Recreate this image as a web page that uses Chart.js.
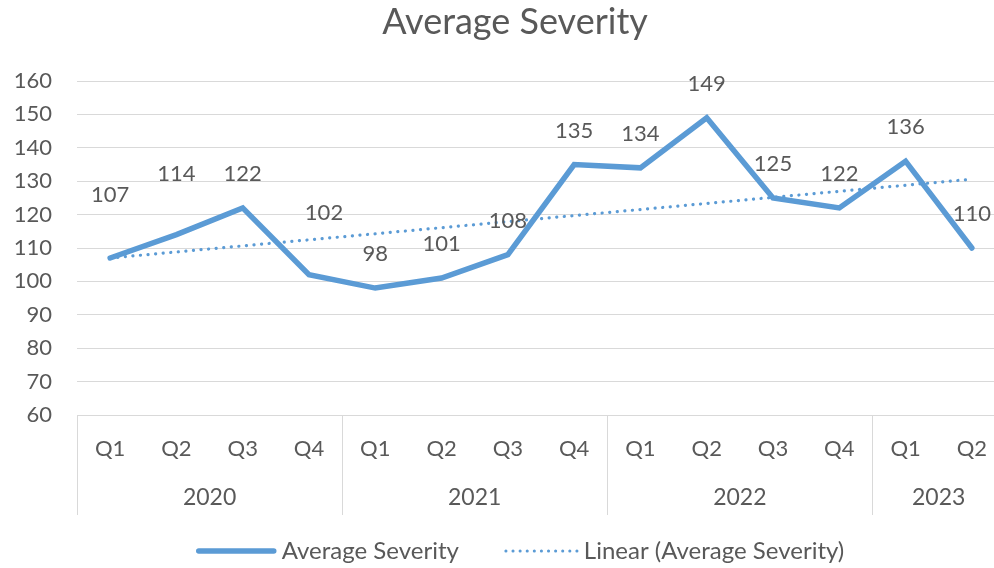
<!DOCTYPE html>
<html><head><meta charset="utf-8">
<script src="https://cdn.jsdelivr.net/npm/chart.js@4/dist/chart.umd.min.js"></script>
<style>html,body{margin:0;padding:0;overflow:hidden;background:#fff;width:994px;height:568px}
#wrap{width:1030px;height:568px}</style></head>
<body><div id="wrap"><canvas id="c" width="1030" height="568"></canvas></div>
<script>
// ---- data ----
const quarters = ['Q1','Q2','Q3','Q4','Q1','Q2','Q3','Q4','Q1','Q2','Q3','Q4','Q1','Q2'];
const years = ['2020','2020','2020','2020','2021','2021','2021','2021','2022','2022','2022','2022','2023','2023'];
const severity = [107,114,122,102,98,101,108,135,134,149,125,122,136,110];
const trendStart = 107.0;   // linear trendline value at first quarter
const trendEnd = 130.6;     // linear trendline value at last quarter
const yMin = 60, yMax = 160, yStep = 10;
const chartTitle = 'Average Severity';
const seriesName = 'Average Severity';
const trendName = 'Linear (Average Severity)';

// ---- style ----
const TXT = '#595959', GRID = '#d9d9d9', BLUE = '#5B9BD5', FONT = 'Lato';
const labelNudge = {0:[0,-63], 1:[0,-61], 3:[15,-62]}; // others: [0,-34]
const AXIS_H = 100;

const trendData = quarters.map((_, i) => i === 0 ? trendStart : (i === quarters.length - 1 ? trendEnd : null));

const decor = {
  id: 'decor',
  afterDatasetsDraw(chart) {
    const ctx = chart.ctx, a = chart.chartArea, x = chart.scales.x;
    ctx.save();
    ctx.fillStyle = TXT; ctx.textAlign = 'center'; ctx.textBaseline = 'middle';
    // title
    ctx.font = '36px ' + FONT;
    ctx.fillText(chartTitle, chart.width / 2, 22);
    // data labels
    ctx.font = '22px ' + FONT;
    const meta = chart.getDatasetMeta(0);
    meta.data.forEach((p, i) => {
      const n = labelNudge[i] || [0, -34];
      ctx.fillText(String(severity[i]), p.x + n[0], p.y + n[1]);
    });
    // grouped category axis
    ctx.font = '23px ' + FONT;
    const half = (x.getPixelForValue(1) - x.getPixelForValue(0)) / 2;
    const edges = new Set();
    let start = 0;
    for (let i = 1; i <= years.length; i++) {
      if (i === years.length || years[i] !== years[start]) {
        const l = x.getPixelForValue(start) - half, r = x.getPixelForValue(i - 1) + half;
        ctx.fillText(years[start], (l + r) / 2, a.bottom + 83);
        edges.add(Math.round(l)); edges.add(Math.round(r));
        start = i;
      }
    }
    ctx.strokeStyle = GRID; ctx.lineWidth = 1;
    edges.forEach(e => {
      ctx.beginPath(); ctx.moveTo(e + 0.5, a.bottom); ctx.lineTo(e + 0.5, a.bottom + AXIS_H); ctx.stroke();
    });
    // legend
    const ly = 551;
    ctx.font = '24px ' + FONT; ctx.textAlign = 'left';
    const w1 = ctx.measureText(seriesName).width, w2 = ctx.measureText(trendName).width;
    const s1 = 80, s2 = 74, g = 6, gap = 45;
    const total = s1 + g + w1 + gap + s2 + g + w2;
    let lx = chart.width / 2 - total / 2 + 5;
    ctx.strokeStyle = BLUE; ctx.lineCap = 'round';
    ctx.lineWidth = 5.5; ctx.beginPath(); ctx.moveTo(lx + 3, ly); ctx.lineTo(lx + s1 - 2, ly); ctx.stroke();
    ctx.fillText(seriesName, lx + s1 + g, ly);
    lx += s1 + g + w1 + gap;
    ctx.lineWidth = 3; ctx.setLineDash([0.1, 7]);
    ctx.beginPath(); ctx.moveTo(lx + 2, ly); ctx.lineTo(lx + s2, ly); ctx.stroke();
    ctx.setLineDash([]);
    ctx.fillText(trendName, lx + s2 + g, ly);
    ctx.restore();
  }
};

new Chart(document.getElementById('c'), {
  type: 'line',
  data: {
    labels: quarters,
    datasets: [
      { label: seriesName, data: severity, borderColor: BLUE, backgroundColor: BLUE,
        borderWidth: 5.5, pointRadius: 0, tension: 0, borderJoinStyle: 'miter', borderCapStyle: 'round', order: 1 },
      { label: trendName, data: trendData, spanGaps: true, borderColor: BLUE, backgroundColor: BLUE,
        borderWidth: 3.2, borderDash: [0.1, 7.5], borderCapStyle: 'round', pointRadius: 0, order: 0 }
    ]
  },
  options: {
    responsive: false, animation: false,
    layout: { padding: { left: 0, right: 25, top: 81, bottom: 53 } },
    plugins: { legend: { display: false }, tooltip: { enabled: false }, title: { display: false } },
    scales: {
      x: { offset: true, grid: { display: false, drawTicks: false }, border: { display: false },
        ticks: { color: TXT, font: { family: FONT, size: 22 }, padding: 21, maxRotation: 0, autoSkip: false },
        afterFit(s) { s.height = AXIS_H; } },
      y: { min: yMin, max: yMax, border: { display: false },
        grid: { color: GRID, lineWidth: 1, drawTicks: false },
        ticks: { stepSize: yStep, color: TXT, font: { family: FONT, size: 22 }, padding: 25 },
        afterFit(s) { s.width = 77; } }
    }
  },
  plugins: [decor]
});
</script></body></html>
